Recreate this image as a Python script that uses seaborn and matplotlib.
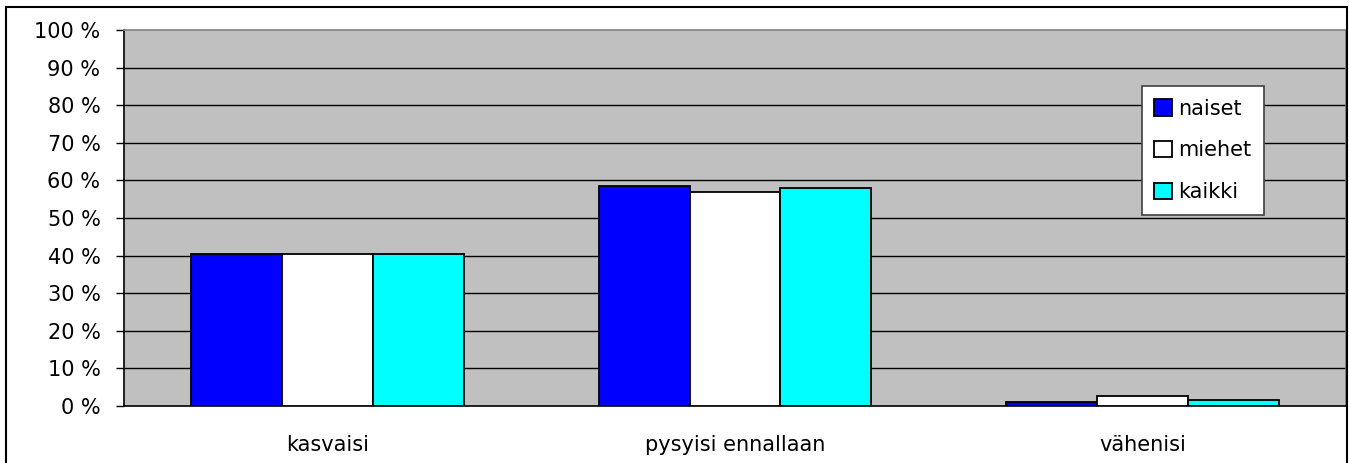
import matplotlib
matplotlib.use("Agg")
import matplotlib.pyplot as plt
from matplotlib.patches import Rectangle
import pandas as pd
import seaborn as sns

# answers and shares (%)
categories = ['kasvaisi', 'pysyisi ennallaan', 'vähenisi']
groups = ['naiset', 'miehet', 'kaikki']
naiset = [40.4, 58.6, 1.0]
miehet = [40.5, 56.8, 2.7]
kaikki = [40.4, 58.0, 1.6]
yticks = list(range(0, 101, 10))

colors = {'naiset': '#0000FF', 'miehet': '#FFFFFF', 'kaikki': '#00FFFF'}

rows = []
for g, vals in zip(groups, [naiset, miehet, kaikki]):
    for c, v in zip(categories, vals):
        rows.append({'vastaus': c, 'ryhma': g, 'osuus': v})
df = pd.DataFrame(rows)

sns.set_style('white')
plt.rcParams['font.family'] = ['DejaVu Sans']
plt.rcParams['font.size'] = 15
plt.rcParams['text.color'] = 'black'
plt.rcParams['xtick.color'] = 'black'
plt.rcParams['ytick.color'] = 'black'
plt.rcParams['xtick.labelcolor'] = 'black'
plt.rcParams['ytick.labelcolor'] = 'black'

fig = plt.figure(figsize=(13.49, 4.63), dpi=100)
ax = fig.add_axes([124 / 1349, 57 / 463, (1346 - 124) / 1349, 376 / 463])
ax.set_facecolor('#C0C0C0')

sns.barplot(data=df, x='vastaus', y='osuus', hue='ryhma', order=categories,
            hue_order=groups, palette=colors, width=0.67, gap=0,
            edgecolor='black', linewidth=1.3, saturation=1, ax=ax, zorder=3)

ax.set_ylim(0, 100)
ax.set_xlim(-0.5, 2.5)
ax.set_yticks(yticks)
ax.set_yticklabels([f'{t} %' for t in yticks])
for t in yticks[1:-1]:
    ax.axhline(t, color='black', lw=1, zorder=1)

ax.set_xticks([-0.5, 0.5, 1.5, 2.5], minor=True)
ax.tick_params(axis='x', which='major', length=0, pad=21, labelsize=15)
ax.tick_params(axis='x', which='minor', length=6, width=1, color='black', direction='out')
ax.tick_params(axis='y', length=6, width=1, color='black', direction='out', pad=11,
               left=True, labelsize=15)
ax.set_xlabel('')
ax.set_ylabel('')

ax.spines['left'].set_color('black')
ax.spines['bottom'].set_color('black')
ax.spines['top'].set_color('#808080')
ax.spines['right'].set_color('#808080')
for s in ax.spines.values():
    s.set_linewidth(1.2)

leg = ax.legend(loc='upper left', bbox_to_anchor=(0.833, 0.851), borderaxespad=0,
                frameon=True, fancybox=False, framealpha=1, edgecolor='#404040',
                handlelength=0.85, handleheight=0.85, handletextpad=0.3,
                labelspacing=1.05, borderpad=0.6, fontsize=15, title=None)
leg.get_frame().set_linewidth(1.2)
leg.set_zorder(5)

# outer chart border
fig.patches.append(Rectangle((6 / 1349, -0.01), (1347 - 6) / 1349, (463 - 7) / 463 + 0.01,
                             transform=fig.transFigure, fill=False,
                             edgecolor='black', linewidth=1.5))

fig.savefig('out.png', dpi=100)
